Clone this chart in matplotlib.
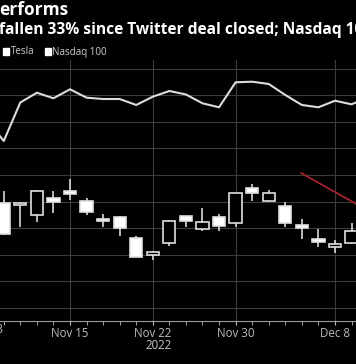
import matplotlib.pyplot as plt
from matplotlib.patches import Rectangle

# trading days shown (Nov 8 sits just off the left edge)
dates = ['Nov 8', 'Nov 9', 'Nov 10', 'Nov 11', 'Nov 14', 'Nov 15', 'Nov 16', 'Nov 17', 'Nov 18',
         'Nov 21', 'Nov 22', 'Nov 23', 'Nov 25', 'Nov 28', 'Nov 29', 'Nov 30',
         'Dec 1', 'Dec 2', 'Dec 5', 'Dec 6', 'Dec 7', 'Dec 8', 'Dec 9', 'Dec 12']

# Tesla OHLC, Nov 9 .. Dec 9
tsla_open = [189.6, 188.6, 185.1, 191.3, 194.1, 190.2, 183.6, 184.3, 176.2, 169.8, 174.4,
             184.4, 179.8, 184.3, 182.1, 195.0, 190.2, 188.3, 181.2, 175.9, 172.9, 174.3]
tsla_high = [194.1, 189.7, 194.2, 194.0, 198.3, 191.2, 185.3, 184.6, 176.9, 171.4, 183.1,
             184.6, 187.5, 185.4, 193.2, 196.7, 194.4, 190.0, 183.3, 179.6, 175.6, 182.1]
tsla_low = [177.6, 180.4, 182.4, 185.7, 190.6, 185.0, 180.6, 176.9, 169.0, 167.9, 173.3,
            180.4, 179.1, 178.9, 180.6, 190.3, 189.8, 180.3, 175.8, 173.1, 170.6, 174.1]
tsla_close = [177.8, 189.6, 194.0, 189.7, 192.7, 185.9, 182.7, 180.0, 169.2, 170.9, 182.8,
              182.7, 182.4, 180.7, 193.1, 193.1, 193.2, 182.1, 179.9, 174.7, 174.2, 179.1]

# Nasdaq 100 close, Nov 8 .. Dec 12
ndx = [11360, 10980, 11677, 11854, 11753, 11916, 11764, 11740, 11740, 11632, 11782, 11885,
       11822, 11662, 11590, 12042, 12053, 12012, 11813, 11632, 11590, 11709, 11644, 11767]

tick_days = ['Nov 8', 'Nov 15', 'Nov 22', 'Nov 30', 'Dec 8']

# red annotation line (day index, Tesla price scale)
arrow_x = [17.96, 22.0]
arrow_y = [200.7, 186.6]

W, H = 356, 364
fig = plt.figure(figsize=(W / 100, H / 100), dpi=100, facecolor='black')
plt.rcParams['font.family'] = ['Open Sans', 'DejaVu Sans']

ax = fig.add_axes([0, 43 / H, 1, 261 / H])
ax.set_facecolor('black')
ax2 = ax.twinx()

idx_ndx = [i - 1 for i in range(len(ndx))]
idx_tsla = list(range(len(tsla_open)))

# candles
for i in idx_tsla:
    o, c = tsla_open[i], tsla_close[i]
    up = c >= o
    ax.vlines(i, tsla_low[i], tsla_high[i], color='#d8d8d8', lw=1.2, zorder=2)
    ax.bar(i, abs(c - o), bottom=min(o, c), width=0.74,
           facecolor='black' if up else 'white', edgecolor='#e0e0e0', lw=1.2, zorder=3)

ax.plot(arrow_x, arrow_y, color='#a3222f', lw=1.3, zorder=4)

ax2.plot(idx_ndx, ndx, color='#dcdcdc', lw=1.5)

ax.set_ylim(145.1, 243.2)
ax2.set_ylim(7722, 12446)
ax.set_yticks(range(150, 241, 10))
ax.grid(True, color='#3c3c3c', lw=0.8)
ax.set_axisbelow(True)

ticks = [dates.index(d) - 1 for d in tick_days]
ax.set_xticks(ticks)
ax.set_xticklabels(tick_days)
ax.set_xticks(idx_tsla, minor=True)
ax.tick_params(axis='x', which='both', colors='#bdbdbd', length=3, pad=1, labelsize=8.3)
ax.tick_params(axis='y', left=False, labelleft=False)
ax2.tick_params(axis='y', right=False, labelright=False)
for a in (ax, ax2):
    for s in ('top', 'left', 'right'):
        a.spines[s].set_visible(False)
    a.spines['bottom'].set_color('#9a9a9a')
ax2.spines['bottom'].set_visible(False)
ax.set_xlim(-0.226, 21.27)
ax2.set_xlim(-0.226, 21.27)

# first tick label sits mostly outside the crop, so draw it by hand
x8 = ax.transData.transform((ticks[0], 0))[0] / W
fig.text(x8, 1 - 333 / H, tick_days[0], color='#bdbdbd', fontsize=8.3, ha='center', va='baseline')
fig.text(159 / W, 1 - 349 / H, '2022', color='#c8c8c8', fontsize=8.3, ha='center', va='baseline')

fig.text(-1 / W, 1 - 15 / H, 'erforms', color='white', fontsize=12.5, fontweight='bold', va='baseline')
fig.text(-1 / W, 1 - 33.5 / H, 'fallen 33% since Twitter deal closed; Nasdaq 100',
         color='white', fontsize=11.2, fontweight='bold', va='baseline')

for sx, label in [(3, 'Tesla'), (45, 'Nasdaq 100')]:
    fig.patches.append(Rectangle((sx / W, 1 - 54.5 / H), 5.5 / W, 6 / H,
                                 transform=fig.transFigure, color='white'))
    fig.text((sx + 7.5) / W, 1 - 54.5 / H, label, color='#d0d0d0', fontsize=7, va='baseline')

fig.savefig('out.png', dpi=100, facecolor='black')
